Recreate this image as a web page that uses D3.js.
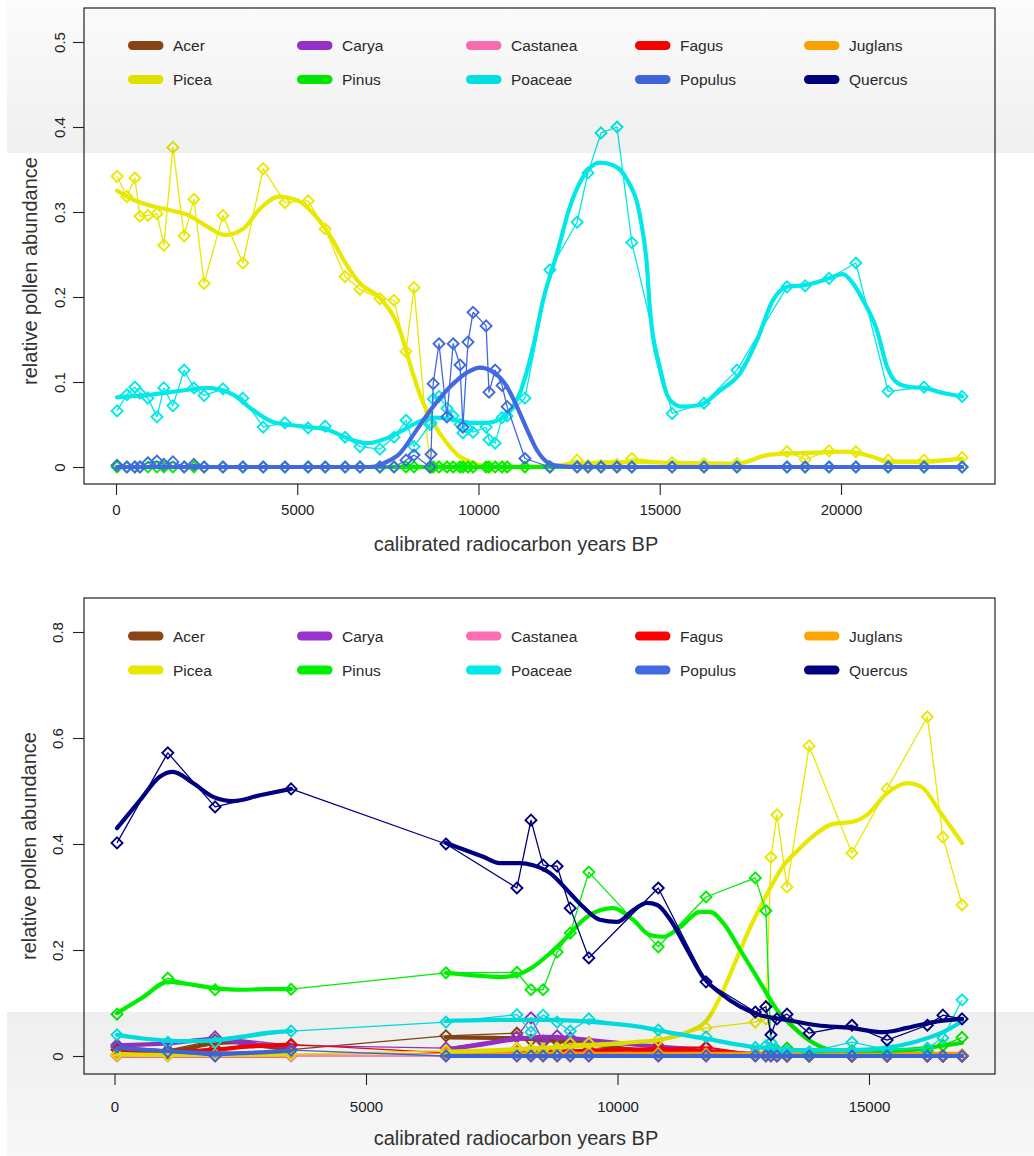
<!DOCTYPE html>
<html>
<head>
<meta charset="utf-8">
<script src="https://cdn.jsdelivr.net/npm/d3@7"></script>
<style>
  html, body { margin: 0; padding: 0; background: #fff; }
  svg { display: block; }
</style>
</head>
<body>
<script>
// ---------------------------------------------------------------
// Taxa, colours, ticks
// ---------------------------------------------------------------
const taxa = ["Acer", "Carya", "Castanea", "Fagus", "Juglans",
              "Picea", "Pinus", "Poaceae", "Populus", "Quercus"];
const taxonColors = ["#8B4513", "#9A32CD", "#FF6EB4", "#FF0000", "#FFA500",
                     "#E8E800", "#00EE00", "#00E8E8", "#4169E1", "#000080"];

const topXTicks = [0, 5000, 10000, 15000, 20000];
const topYTicks = [0, 0.1, 0.2, 0.3, 0.4, 0.5];
const bottomXTicks = [0, 5000, 10000, 15000];
const bottomYTicks = [0, 0.2, 0.4, 0.6, 0.8];

const xTitle = "calibrated radiocarbon years BP";
const yTitle = "relative pollen abundance";

// ---------------------------------------------------------------
// Upper core: sample ages (cal yr BP) and relative abundances
// ---------------------------------------------------------------
const topAges = [30, 300, 520, 660, 880, 1130, 1320, 1570, 1880, 2150,
  2430, 2950, 3500, 4060, 4660, 5300, 5770, 6320, 6730, 7280,
  7670, 8000, 8220, 8660, 8690, 8750, 8910, 9130, 9300, 9490,
  9570, 9710, 9850, 10210, 10290, 10460, 10650, 10790, 11280, 11970,
  12720, 13020, 13380, 13820, 14230, 15340, 16220, 17130, 18510, 19010,
  19670, 20410, 21300, 22290, 23340];

const topPicea = [0.342, 0.318, 0.340, 0.295, 0.296, 0.298, 0.261, 0.376, 0.272, 0.315,
  0.216, 0.296, 0.240, 0.351, 0.311, 0.313, 0.280, 0.224, 0.209, 0.198,
  0.196, 0.136, 0.211, 0, 0, 0, 0, 0, 0, 0,
  0, 0, 0, 0, 0, 0, 0, 0, 0, 0,
  0.008, 0.002, 0.002, 0.003, 0.010, 0.005, 0.004, 0.004, 0.018, 0.009,
  0.019, 0.018, 0.008, 0.008, 0.011];

const topPinus = [0, 0, 0, 0, 0, 0, 0, 0, 0, 0,
  0, 0, 0, 0, 0, 0, 0, 0, 0, 0,
  0, 0, 0, 0, 0, 0, 0, 0, 0, 0,
  0, 0, 0, 0, 0, 0, 0, 0, 0, 0,
  0, 0, 0, 0, 0, 0, 0, 0, 0, 0,
  0, 0, 0, 0, 0];

const topPoaceae = [0.066, 0.085, 0.094, 0.087, 0.081, 0.059, 0.093, 0.072, 0.114, 0.093,
  0.084, 0.092, 0.081, 0.047, 0.052, 0.046, 0.048, 0.035, 0.024, 0.021,
  0.035, 0.055, 0.024, 0.050, 0.052, 0.080, 0.083, 0.069, 0.060, 0.050,
  0.040, 0.045, 0.041, 0.047, 0.032, 0.028, 0.058, 0.060, 0.081, 0.232,
  0.288, 0.346, 0.393, 0.400, 0.264, 0.063, 0.075, 0.114, 0.212, 0.213,
  0.222, 0.240, 0.089, 0.094, 0.083];

const topPopulus = [0.002, 0, 0, 0, 0.005, 0.007, 0.003, 0.006, 0, 0.003,
  0, 0, 0, 0, 0, 0, 0, 0, 0, 0,
  0, 0.008, 0.014, 0, 0.015, 0.098, 0.145, 0.059, 0.145, 0.120,
  0.047, 0.147, 0.182, 0.166, 0.088, 0.114, 0.096, 0.071, 0.010, 0,
  0, 0, 0, 0, 0, 0, 0, 0, 0, 0,
  0, 0, 0, 0, 0];

// smoothed trends, [age, abundance] knots
const topPiceaSmooth = [[30, 0.325], [500, 0.314], [990, 0.307], [1490, 0.302], [2010, 0.296],
  [2510, 0.283], [3010, 0.273], [3500, 0.280], [4000, 0.305], [4500, 0.318], [4990, 0.314],
  [5490, 0.296], [5990, 0.266], [6260, 0.245], [6730, 0.216], [7280, 0.199], [7830, 0.161],
  [8190, 0.110], [8440, 0.079], [8750, 0.052], [9130, 0.028], [9490, 0.012], [9850, 0.005],
  [10320, 0], [11970, 0.001], [12720, 0.004], [14230, 0.006], [15340, 0.005], [17130, 0.004],
  [17960, 0.014], [18510, 0.016], [19340, 0.017], [20050, 0.018], [20410, 0.017],
  [20880, 0.012], [21300, 0.006], [22290, 0.006], [23340, 0.010]];

const topPinusSmooth = [[30, 0], [23340, 0]];

const topPoaceaeSmooth = [[30, 0.082], [940, 0.085], [1850, 0.090], [2510, 0.093], [3230, 0.085],
  [3780, 0.067], [4330, 0.053], [5080, 0.048], [5820, 0.044], [6370, 0.034], [6920, 0.028],
  [7480, 0.034], [8030, 0.046], [8390, 0.054], [8750, 0.058], [9130, 0.057], [9490, 0.054],
  [9850, 0.052], [10230, 0.052], [10590, 0.056], [10870, 0.066], [11150, 0.088],
  [11500, 0.140], [11780, 0.196], [12170, 0.252], [12520, 0.306], [12880, 0.341],
  [13350, 0.358], [13710, 0.355], [14100, 0.338], [14460, 0.294], [14650, 0.235],
  [14730, 0.185], [15010, 0.114], [15280, 0.079], [15610, 0.071], [16110, 0.073],
  [16660, 0.090], [17210, 0.110], [17680, 0.149], [18120, 0.196], [18510, 0.212],
  [19010, 0.214], [19670, 0.222], [20050, 0.227], [20330, 0.216], [20610, 0.196],
  [20990, 0.161], [21270, 0.118], [21550, 0.099], [21900, 0.094], [22290, 0.093],
  [22810, 0.087], [23340, 0.083]];

const topPopulusSmooth = [[30, 0], [7000, 0], [7280, 0.002], [7370, 0.004], [7830, 0.016],
  [8300, 0.044], [8750, 0.071], [9210, 0.094], [9680, 0.111], [10040, 0.117], [10400, 0.112],
  [10790, 0.094], [11060, 0.071], [11340, 0.044], [11610, 0.020], [11890, 0.006],
  [12250, 0.001], [12800, 0], [23340, 0]];

// ---------------------------------------------------------------
// Lower core: sample ages (cal yr BP) and relative abundances
// ---------------------------------------------------------------
const bottomAges = [50, 1060, 2000, 3510, 6590, 8000, 8280, 8520, 8800, 9060,
  9430, 10810, 11760, 12740, 12950, 13050, 13170, 13370, 13810, 14660,
  15360, 16160, 16470, 16850];

const bottomAcer = [0.018, 0.011, 0.030, 0.012, 0.038, 0.043, 0.030, 0.026, 0.028, 0.022,
  0.020, 0.010, 0.003, 0.002, 0.001, 0.001, 0, 0, 0, 0, 0, 0, 0, 0];
const bottomCarya = [0.021, 0.024, 0.036, 0.020, 0.015, 0.036, 0.072, 0.028, 0.038, 0.034,
  0.025, 0.020, 0.015, 0.005, 0.003, 0.002, 0.002, 0.001, 0.001, 0, 0, 0, 0, 0];
const bottomCastanea = [0, 0, 0, 0, 0, 0, 0, 0, 0, 0,
  0, 0, 0, 0, 0, 0, 0, 0, 0, 0, 0, 0, 0, 0];
const bottomFagus = [0.012, 0.006, 0.015, 0.022, 0.006, 0.008, 0.005, 0.005, 0.006, 0.008,
  0.012, 0.015, 0.017, 0.003, 0.002, 0.002, 0.001, 0, 0, 0, 0, 0, 0, 0];
const bottomJuglans = [0.003, 0.002, 0.002, 0.003, 0.005, 0.006, 0.006, 0.005, 0.005, 0.005,
  0.006, 0.005, 0.004, 0.004, 0.004, 0.004, 0.004, 0.004, 0.004, 0.004, 0.004, 0.002, 0.002, 0.002];
const bottomPicea = [0.002, 0.001, 0.002, 0.003, 0.010, 0.015, 0.013, 0.012, 0.015, 0.024,
  0.024, 0.030, 0.053, 0.064, 0.070, 0.375, 0.455, 0.319, 0.585, 0.383,
  0.504, 0.640, 0.413, 0.285];
const bottomPinus = [0.079, 0.147, 0.125, 0.126, 0.157, 0.158, 0.125, 0.125, 0.196, 0.232,
  0.347, 0.206, 0.300, 0.336, 0.274, 0.015, 0.010, 0.015, 0.005, 0.010,
  0.008, 0.010, 0.020, 0.035];
const bottomPoaceae = [0.040, 0.026, 0.026, 0.047, 0.064, 0.078, 0.045, 0.077, 0.064, 0.047,
  0.070, 0.049, 0.036, 0.016, 0.019, 0.026, 0.012, 0.010, 0.008, 0.026,
  0.012, 0.015, 0.034, 0.106];
const bottomPopulus = [0.017, 0.008, 0, 0.011, 0, 0, 0, 0, 0, 0,
  0, 0, 0, 0, 0, 0, 0, 0, 0, 0, 0, 0, 0, 0];
const bottomQuercus = [0.402, 0.572, 0.470, 0.504, 0.400, 0.317, 0.445, 0.360, 0.358, 0.279,
  0.185, 0.317, 0.140, 0.083, 0.093, 0.040, 0.070, 0.079, 0.043, 0.058,
  0.030, 0.058, 0.077, 0.070];

// smoothed trends (null splits the trend across the sampling gap)
const bottomAcerSmooth = [[50, 0.015], [1060, 0.009], [2000, 0.024], [2500, 0.026], [3000, 0.018],
  [3510, 0.013], null, [6590, 0.035], [7660, 0.034], [8320, 0.032], [9060, 0.027], [9650, 0.020],
  [10310, 0.012], [11050, 0.006], [12040, 0.002], [13370, 0.001], [16850, 0]];
const bottomCaryaSmooth = [[50, 0.020], [1060, 0.024], [2000, 0.032], [2700, 0.022], [3510, 0.018],
  null, [6590, 0.012], [7330, 0.022], [8000, 0.032], [8520, 0.036], [9060, 0.034], [9650, 0.028],
  [10310, 0.022], [10990, 0.016], [11780, 0.009], [12640, 0.004], [13630, 0.002], [16850, 0]];
const bottomCastaneaSmooth = [[50, 0], [3510, 0], null, [6590, 0], [16850, 0]];
const bottomFagusSmooth = [[50, 0.012], [1060, 0.008], [2000, 0.012], [2700, 0.018], [3510, 0.021],
  null, [6590, 0.006], [8000, 0.007], [9060, 0.009], [10310, 0.012], [11050, 0.012],
  [11780, 0.009], [12640, 0.004], [13630, 0.001], [16850, 0]];
const bottomJuglansSmooth = [[50, 0.002], [3510, 0.002], null, [6590, 0.004], [16850, 0.004]];
const bottomPiceaSmooth = [[50, 0.003], [1060, 0.002], [2000, 0.002], [3510, 0.003], null,
  [6590, 0.008], [7660, 0.011], [8660, 0.016], [9650, 0.021], [10310, 0.026], [10810, 0.030],
  [11390, 0.045], [11780, 0.068], [12040, 0.111], [12300, 0.168], [12640, 0.243],
  [12980, 0.307], [13290, 0.358], [13630, 0.392], [13830, 0.410], [14290, 0.438],
  [14680, 0.442], [14960, 0.455], [15360, 0.496], [15760, 0.515], [16040, 0.508],
  [16430, 0.458], [16850, 0.402]];
const bottomPinusSmooth = [[50, 0.081], [570, 0.111], [1060, 0.140], [1440, 0.136], [2000, 0.128],
  [2500, 0.125], [3030, 0.126], [3510, 0.126], null, [6590, 0.157], [7330, 0.151],
  [7660, 0.149], [8000, 0.153], [8320, 0.168], [8660, 0.194], [9000, 0.225], [9320, 0.257],
  [9650, 0.275], [9910, 0.279], [10310, 0.257], [10650, 0.228], [10910, 0.225],
  [11240, 0.243], [11640, 0.272], [11840, 0.272], [12100, 0.251], [12440, 0.200],
  [12840, 0.138], [13170, 0.087], [13490, 0.055], [13890, 0.025], [14290, 0.011],
  [14960, 0.010], [15620, 0.011], [16280, 0.017], [16850, 0.025]];
const bottomPoaceaeSmooth = [[50, 0.040], [570, 0.033], [1060, 0.029], [1500, 0.028], [2000, 0.030],
  [2500, 0.036], [2990, 0.043], [3510, 0.047], null, [6590, 0.066], [7660, 0.068],
  [8660, 0.068], [9650, 0.063], [10450, 0.055], [10990, 0.045], [11780, 0.032],
  [12640, 0.018], [13630, 0.011], [14630, 0.011], [15280, 0.015], [15960, 0.028],
  [16470, 0.045], [16850, 0.065]];
const bottomPopulusSmooth = [[50, 0.015], [1060, 0.009], [2000, 0.005], [2700, 0.006], [3510, 0.010],
  null, [6590, 0], [16850, 0]];
const bottomQuercusSmooth = [[50, 0.430], [510, 0.483], [900, 0.527], [1160, 0.536], [1560, 0.515],
  [1960, 0.489], [2360, 0.481], [2890, 0.492], [3510, 0.504], null, [6590, 0.402],
  [7330, 0.376], [7660, 0.364], [8060, 0.364], [8320, 0.360], [8660, 0.345], [9000, 0.313],
  [9320, 0.281], [9650, 0.257], [9990, 0.253], [10310, 0.275], [10590, 0.289],
  [10790, 0.285], [11050, 0.257], [11390, 0.200], [11700, 0.149], [12040, 0.119],
  [12440, 0.093], [12840, 0.077], [13370, 0.068], [13970, 0.058], [14630, 0.053],
  [15280, 0.045], [15760, 0.053], [16280, 0.064], [16850, 0.070]];

// ---------------------------------------------------------------
// Panel definitions
// ---------------------------------------------------------------
const panels = [
  {
    ages: topAges,
    series: { Picea: topPicea, Pinus: topPinus, Poaceae: topPoaceae, Populus: topPopulus },
    smooth: { Picea: topPiceaSmooth, Pinus: topPinusSmooth, Poaceae: topPoaceaeSmooth, Populus: topPopulusSmooth },
    xTicks: topXTicks, yTicks: topYTicks,
    xDomain: [0, 20000], xRange: [116, 841],
    yDomain: [0, 0.5], yRange: [467, 42],
    box: { x0: 84, x1: 995, y0: 8, y1: 484 },
    legendRows: [45.5, 79.5],
    xLabelBase: 515, yLabelBase: 64.5,
    xTitleBase: 551, yTitleBase: 37, yTitleMid: 271
  },
  {
    ages: bottomAges,
    series: { Acer: bottomAcer, Carya: bottomCarya, Castanea: bottomCastanea, Fagus: bottomFagus,
              Juglans: bottomJuglans, Picea: bottomPicea, Pinus: bottomPinus, Poaceae: bottomPoaceae,
              Populus: bottomPopulus, Quercus: bottomQuercus },
    smooth: { Acer: bottomAcerSmooth, Carya: bottomCaryaSmooth, Castanea: bottomCastaneaSmooth,
              Fagus: bottomFagusSmooth, Juglans: bottomJuglansSmooth, Picea: bottomPiceaSmooth,
              Pinus: bottomPinusSmooth, Poaceae: bottomPoaceaeSmooth, Populus: bottomPopulusSmooth,
              Quercus: bottomQuercusSmooth },
    xTicks: bottomXTicks, yTicks: bottomYTicks,
    xDomain: [0, 15000], xRange: [114.5, 869],
    yDomain: [0, 0.8], yRange: [1056, 632],
    box: { x0: 84, x1: 995, y0: 598, y1: 1074 },
    legendRows: [636, 670],
    xLabelBase: 1112, yLabelBase: 62.5,
    xTitleBase: 1145, yTitleBase: 36, yTitleMid: 846
  }
];

// ---------------------------------------------------------------
// Drawing
// ---------------------------------------------------------------
const W = 1034, H = 1156;
const FONT = "'Liberation Sans', Arial, Helvetica, sans-serif";
const INK = "#222";

const svg = d3.select("body").append("svg")
  .attr("width", W).attr("height", H)
  .attr("viewBox", `0 0 ${W} ${H}`);

svg.append("rect").attr("width", W).attr("height", H).attr("fill", "#fff");

const colorOf = d3.scaleOrdinal().domain(taxa).range(taxonColors);
const diamond = r => `M0,${-r}L${r},0L0,${r}L${-r},0Z`;

function drawPanel(p, pi) {
  const g = svg.append("g").attr("class", "panel");
  const x = d3.scaleLinear().domain(p.xDomain).range(p.xRange);
  const y = d3.scaleLinear().domain(p.yDomain).range(p.yRange);
  const b = p.box;

  const clipId = "clip" + pi;
  svg.append("clipPath").attr("id", clipId)
    .append("rect").attr("x", b.x0).attr("y", b.y0)
    .attr("width", b.x1 - b.x0).attr("height", b.y1 - b.y0);

  const plot = g.append("g").attr("clip-path", `url(#${clipId})`);

  const rawLine = d3.line()
    .x(d => x(d[0])).y(d => y(d[1]));
  const smoothLine = d3.line()
    .defined(d => d !== null)
    .curve(d3.curveMonotoneX)
    .x(d => x(d[0])).y(d => y(d[1]));

  // one layer per taxon: raw samples, markers, smoothed trend
  taxa.filter(t => p.series[t]).forEach(t => {
    const col = colorOf(t);
    const pts = p.ages.map((a, i) => [a, p.series[t][i]]);
    const layer = plot.append("g").attr("class", "taxon " + t);

    layer.append("path")
      .attr("d", rawLine(pts))
      .attr("fill", "none").attr("stroke", col)
      .attr("stroke-width", 1.3).attr("stroke-linejoin", "round");

    layer.selectAll("path.mark").data(pts).join("path")
      .attr("class", "mark")
      .attr("transform", d => `translate(${x(d[0])},${y(d[1])})`)
      .attr("d", diamond(5.5))
      .attr("fill", "none").attr("stroke", col).attr("stroke-width", 1.9);

    layer.append("path")
      .attr("d", smoothLine(p.smooth[t]))
      .attr("fill", "none").attr("stroke", col)
      .attr("stroke-width", 4.2).attr("stroke-linecap", "round")
      .attr("stroke-linejoin", "round");
  });

  // plot frame
  g.append("rect")
    .attr("x", b.x0).attr("y", b.y0)
    .attr("width", b.x1 - b.x0).attr("height", b.y1 - b.y0)
    .attr("fill", "none").attr("stroke", INK).attr("stroke-width", 1.2);

  // y axis
  const yAxis = g.append("g")
    .attr("transform", `translate(${b.x0},0)`)
    .call(d3.axisLeft(y).tickValues(p.yTicks).tickSize(11).tickFormat(d => String(d)));
  yAxis.select(".domain").remove();
  yAxis.selectAll(".tick line").attr("stroke", INK).attr("stroke-width", 1.1);
  yAxis.selectAll(".tick text")
    .attr("x", null).attr("dy", null)
    .attr("transform", `translate(${p.yLabelBase - b.x0},0) rotate(-90)`)
    .attr("text-anchor", "middle")
    .attr("font-family", FONT).attr("font-size", 15).attr("fill", INK);

  // x axis
  const xAxis = g.append("g")
    .attr("transform", `translate(0,${b.y1})`)
    .call(d3.axisBottom(x).tickValues(p.xTicks).tickSize(11).tickFormat(d3.format("d")));
  xAxis.select(".domain").remove();
  xAxis.selectAll(".tick line").attr("stroke", INK).attr("stroke-width", 1.1);
  xAxis.selectAll(".tick text")
    .attr("y", p.xLabelBase - b.y1).attr("dy", null)
    .attr("font-family", FONT).attr("font-size", 15).attr("fill", INK);

  // axis titles
  g.append("text")
    .attr("x", 516).attr("y", p.xTitleBase)
    .attr("text-anchor", "middle")
    .attr("font-family", FONT).attr("font-size", 20).attr("fill", "#333")
    .text(xTitle);
  g.append("text")
    .attr("transform", `translate(${p.yTitleBase},${p.yTitleMid}) rotate(-90)`)
    .attr("text-anchor", "middle")
    .attr("font-family", FONT).attr("font-size", 20).attr("fill", "#333")
    .text(yTitle);

  // legend: two rows of five
  const colX = d3.scaleLinear().domain([0, 4]).range([128, 804]);
  const legend = g.append("g").attr("class", "legend");
  const items = legend.selectAll("g").data(taxa).join("g")
    .attr("transform", (d, i) => `translate(${colX(i % 5)},${p.legendRows[Math.floor(i / 5)]})`);
  items.append("line")
    .attr("x1", 4.5).attr("x2", 31).attr("y1", 0).attr("y2", 0)
    .attr("stroke", d => colorOf(d)).attr("stroke-width", 9)
    .attr("stroke-linecap", "round");
  items.append("text")
    .attr("x", 45).attr("y", 5.5)
    .attr("font-family", FONT).attr("font-size", 15.5).attr("fill", "#2a2a2a")
    .text(d => d);
}

panels.forEach(drawPanel);

// light grey wash across the top and bottom bands of the figure
const defs = svg.append("defs");
const gTop = defs.append("linearGradient").attr("id", "washTop")
  .attr("x1", 0).attr("y1", 0).attr("x2", 0).attr("y2", 1);
gTop.append("stop").attr("offset", "0%").attr("stop-color", "#000").attr("stop-opacity", 0.015);
gTop.append("stop").attr("offset", "100%").attr("stop-color", "#000").attr("stop-opacity", 0.06);
const gBot = defs.append("linearGradient").attr("id", "washBottom")
  .attr("x1", 0).attr("y1", 0).attr("x2", 0).attr("y2", 1);
gBot.append("stop").attr("offset", "0%").attr("stop-color", "#000").attr("stop-opacity", 0.065);
gBot.append("stop").attr("offset", "100%").attr("stop-color", "#000").attr("stop-opacity", 0.03);

svg.append("rect").attr("x", 7).attr("y", 0).attr("width", W - 7).attr("height", 153)
  .attr("fill", "url(#washTop)").attr("pointer-events", "none");
svg.append("rect").attr("x", 7).attr("y", 1012).attr("width", W - 7).attr("height", H - 1012)
  .attr("fill", "url(#washBottom)").attr("pointer-events", "none");
</script>
</body>
</html>
